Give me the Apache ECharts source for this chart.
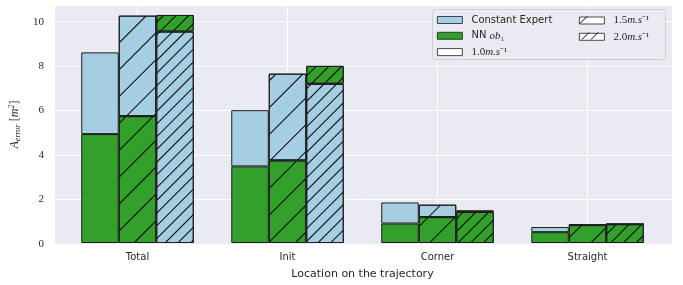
<!DOCTYPE html>
<html>
<head>
<meta charset="utf-8">
<script src="https://cdn.jsdelivr.net/npm/echarts@6/dist/echarts.min.js"></script>
<style>
  html, body { margin: 0; padding: 0; background: #fff; }
  #chart { width: 683px; height: 285px; }
</style>
</head>
<body>
<div id="chart"></div>
<script>
// data
var categories = ['Total', 'Init', 'Corner', 'Straight'];
var speeds = ['1.0', '1.5', '2.0'];
var expert10 = [8.61, 6.00, 1.83, 0.72];
var expert15 = [10.27, 7.65, 1.73, 0.83];
var expert20 = [9.55, 7.19, 1.47, 0.86];
var nn10 = [4.92, 3.46, 0.88, 0.49];
var nn15 = [5.73, 3.73, 1.17, 0.81];
var nn20 = [10.30, 8.00, 1.40, 0.85];
var yTicks = [0, 2, 4, 6, 8, 10];

var BLUE = '#a6cee3';
var GREEN = '#33a02c';
var EDGE = '#1e1e1e';
var SANS = 'DejaVu Sans';
var SERIF = 'Liberation Serif';

function hatch(gap) {
    return {
        symbol: 'rect',
        symbolSize: 1,
        color: '#000',
        dashArrayX: [1, 0],
        dashArrayY: [1, gap],
        rotation: -Math.PI / 4
    };
}
var decals = [null, hatch(18), hatch(8)];

var expert = [expert10, expert15, expert20];
var nn = [nn10, nn15, nn20];

// the smaller value is drawn in front, the bigger one shows above it
var series = [];
speeds.forEach(function (sp, k) {
    var low = [], high = [];
    categories.forEach(function (c, i) {
        var e = expert[k][i], n = nn[k][i];
        var eBig = e >= n;
        low.push({ value: Math.min(e, n), itemStyle: { color: eBig ? GREEN : BLUE } });
        high.push({ value: Math.abs(e - n), itemStyle: { color: eBig ? BLUE : GREEN } });
    });
    [low, high].forEach(function (d) {
        series.push({
            type: 'bar',
            xAxisIndex: 1,
            yAxisIndex: 1,
            stack: 'sp' + k,
            barCategoryGap: '25%',
            barGap: '0%',
            data: d,
            itemStyle: {
                borderColor: EDGE,
                borderWidth: 1,
                decal: decals[k]
            }
        });
    });
});

// legend-only series (share stack so they take no slot)
var legendItems = [
    { name: 'Constant Expert', color: BLUE },
    { name: 'NN ob1', color: GREEN },
    { name: '1.0', color: '#fff' },
    { name: '1.5', color: '#fff' },
    { name: '2.0', color: '#fff' }
];
legendItems.forEach(function (it) {
    series.push({
        type: 'bar',
        name: it.name,
        xAxisIndex: 1,
        yAxisIndex: 1,
        stack: 'sp0',
        data: [],
        itemStyle: { color: it.color, borderColor: EDGE, borderWidth: 1 }
    });
});

var legendRich = {
    t: { fontFamily: SANS, fontSize: 10, color: '#262626' },
    m: { fontFamily: SERIF, fontStyle: 'italic', fontSize: 11, color: '#262626' },
    r: { fontFamily: SERIF, fontSize: 11, color: '#262626' }
};
function legendLabel(name) {
    if (name === 'Constant Expert') return '{t|Constant Expert}';
    if (name === 'NN ob1') return '{t|NN }{m|ob}{r|\u2081}';
    return '{r|' + name + '}{m|m.s}{r|\u207B\u00B9}';
}
var legendBase = {
    orient: 'vertical',
    top: 15,
    padding: 0,
    itemWidth: 25,
    itemHeight: 7,
    itemGap: 5.3,
    icon: 'rect',
    itemStyle: { borderWidth: 0.8 },
    formatter: legendLabel,
    textStyle: { rich: legendRich, padding: [0, 0, 0, 4] },
    selectedMode: false
};

// hatch strokes on the two legend swatches
function hatchLine(x, yc) {
    return {
        type: 'line', z: 5, silent: true,
        shape: { x1: x, y1: yc + 3.5, x2: x + 7, y2: yc - 3.5 },
        style: { stroke: '#000', lineWidth: 1 }
    };
}

var chart = echarts.init(document.getElementById('chart'));
var option = {
    animation: false,
    backgroundColor: '#fff',
    grid: [
        { left: 55, right: 11, top: 5, bottom: 41, show: true, backgroundColor: '#eaeaf2', borderWidth: 0 },
        { left: 62.5, right: 20.5, top: 5, bottom: 41 },
        { left: 137.5, right: 95.5, top: 5, bottom: 41 }
    ],
    legend: [
        Object.assign({}, legendBase, { left: 437, data: ['Constant Expert', 'NN ob1', '1.0'] }),
        Object.assign({}, legendBase, { left: 579, data: ['1.5', '2.0'] })
    ],
    graphic: [
        {
            type: 'rect',
            z: 3,
            shape: { x: 432.5, y: 9.5, width: 233, height: 50, r: 3 },
            style: { fill: 'rgba(234,234,242,0.8)', stroke: '#cfcfcf', lineWidth: 1 }
        },
        hatchLine(580, 20),
        hatchLine(582, 36),
        hatchLine(591, 36)
    ],
    xAxis: [
        { gridIndex: 0, type: 'value', show: false, min: 0, max: 1 },
        {
            gridIndex: 1, type: 'category', data: categories,
            axisLine: { show: false }, axisTick: { show: false }, splitLine: { show: false },
            axisLabel: { fontFamily: SANS, fontSize: 10, color: '#262626', margin: 9 },
            name: 'Location on the trajectory', nameLocation: 'middle', nameGap: 26,
            nameTextStyle: { fontFamily: SANS, fontSize: 11, color: '#262626' }
        },
        {
            gridIndex: 2, type: 'value', min: 0, max: 3, interval: 1,
            axisLine: { show: false }, axisTick: { show: false }, axisLabel: { show: false },
            splitLine: { show: true, lineStyle: { color: '#fff', width: 1 } }
        }
    ],
    yAxis: [
        {
            gridIndex: 0, type: 'value', min: 0, max: 10.75, interval: 2,
            axisLine: { show: false }, axisTick: { show: false },
            axisLabel: {
                fontFamily: SERIF, fontSize: 11, color: '#262626', margin: 11,
                formatter: function (v) { return yTicks.indexOf(v) >= 0 ? String(v) : ''; }
            },
            splitLine: { show: true, lineStyle: { color: '#fff', width: 1 } },
            name: '{a|A}{s|error} {b|[}{a|m}{s2|2}{b|]}',
            nameLocation: 'middle', nameGap: 27,
            nameTextStyle: {
                rich: {
                    a: { fontFamily: SERIF, fontStyle: 'italic', fontSize: 12, color: '#262626' },
                    b: { fontFamily: SERIF, fontSize: 12, color: '#262626' },
                    s: { fontFamily: SERIF, fontStyle: 'italic', fontSize: 8, color: '#262626', padding: [6, 0, 0, 0] },
                    s2: { fontFamily: SERIF, fontStyle: 'italic', fontSize: 8, color: '#262626', padding: [0, 0, 6, 0] }
                }
            }
        },
        { gridIndex: 1, type: 'value', min: 0, max: 10.75, show: false },
        { gridIndex: 2, type: 'value', min: 0, max: 1, show: false }
    ],
    series: series
};
chart.setOption(option);
</script>
</body>
</html>
